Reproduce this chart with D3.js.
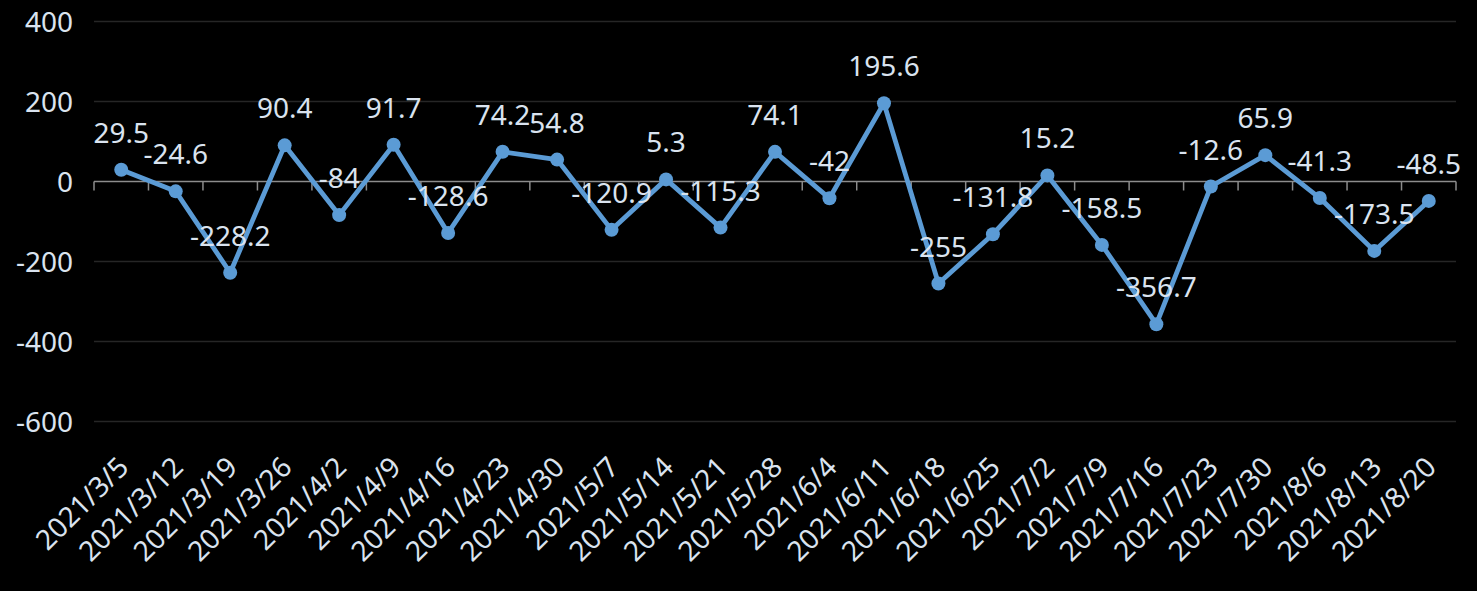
<!DOCTYPE html>
<html><head><meta charset="utf-8">
<script src="https://cdn.jsdelivr.net/npm/d3@7"></script>
<style>html,body{margin:0;padding:0;background:#000;}svg{display:block;}</style>
</head><body>
<svg id="c" width="1477" height="591"></svg>
<script>
const categories = ["2021/3/5","2021/3/12","2021/3/19","2021/3/26","2021/4/2","2021/4/9","2021/4/16","2021/4/23","2021/4/30","2021/5/7","2021/5/14","2021/5/21","2021/5/28","2021/6/4","2021/6/11","2021/6/18","2021/6/25","2021/7/2","2021/7/9","2021/7/16","2021/7/23","2021/7/30","2021/8/6","2021/8/13","2021/8/20"];
const values = [29.5,-24.6,-228.2,90.4,-84,91.7,-128.6,74.2,54.8,-120.9,5.3,-115.3,74.1,-42,195.6,-255,-131.8,15.2,-158.5,-356.7,-12.6,65.9,-41.3,-173.5,-48.5];
const yTicks = [400,200,0,-200,-400,-600];

(function(){
const svg = d3.select("#c");
const W = 1477, H = 591;
svg.append("rect").attr("width",W).attr("height",H).attr("fill","#000");
const pL = 94, pR = 1456, pT = 21.5, pB = 421.5;
const txt = "#dae3ef";
const font = "'Noto Sans', sans-serif";

const x = d3.scaleBand().domain(categories).range([pL,pR]);
const y = d3.scaleLinear().domain([-600,400]).range([pB,pT]);

// gridlines
svg.append("g").selectAll("line").data(yTicks.filter(d=>d!==0)).join("line")
  .attr("x1",pL).attr("x2",pR).attr("y1",d=>y(d)).attr("y2",d=>y(d))
  .attr("stroke","#262626").attr("stroke-width",1.5);

// y axis labels
const ya = svg.append("g").attr("transform",`translate(${pL},0)`)
  .call(d3.axisLeft(y).tickValues(yTicks).tickSize(0).tickPadding(21).tickFormat(d=>String(d)));
ya.select(".domain").remove();
ya.selectAll("text").attr("fill",txt).style("font-family",font).style("font-size","28px").attr("dy","0.35em");

// zero axis with ticks at category boundaries
const y0 = y(0);
svg.append("line").attr("x1",pL).attr("x2",pR).attr("y1",y0).attr("y2",y0)
  .attr("stroke","#8c8c8c").attr("stroke-width",1.5);
const bounds = categories.map(c=>x(c)).concat([x(categories[categories.length-1])+x.bandwidth()]);
svg.append("g").selectAll("line").data(bounds).join("line")
  .attr("x1",d=>d).attr("x2",d=>d).attr("y1",y0).attr("y2",y0+9)
  .attr("stroke","#8c8c8c").attr("stroke-width",1.5);

// x axis labels
const xa = svg.append("g").attr("transform",`translate(0,${y0})`)
  .call(d3.axisBottom(x).tickSize(0));
xa.select(".domain").remove();
xa.selectAll("text").attr("fill",txt).style("font-family",font).style("font-size","28px")
  .attr("text-anchor","end").attr("y",0).attr("dy",0)
  .attr("transform",`translate(9,${469-y0}) rotate(-45)`);

// line
const cx = d=>x(d.c)+x.bandwidth()/2;
const data = categories.map((c,i)=>({c, v: values[i]}));
svg.append("path").datum(data)
  .attr("d", d3.line().x(cx).y(d=>y(d.v)))
  .attr("fill","none").attr("stroke","#5b9bd5").attr("stroke-width",4.8).attr("stroke-linejoin","round");
svg.append("g").selectAll("circle").data(data).join("circle")
  .attr("cx",cx).attr("cy",d=>y(d.v)).attr("r",7).attr("fill","#5b9bd5");

// data labels
svg.append("g").selectAll("text").data(data).join("text")
  .attr("x",cx).attr("y",d=>y(d.v)-27).attr("text-anchor","middle")
  .attr("fill",txt).style("font-family",font).style("font-size","28px")
  .text(d=>String(d.v));
})();
</script>
</body></html>
